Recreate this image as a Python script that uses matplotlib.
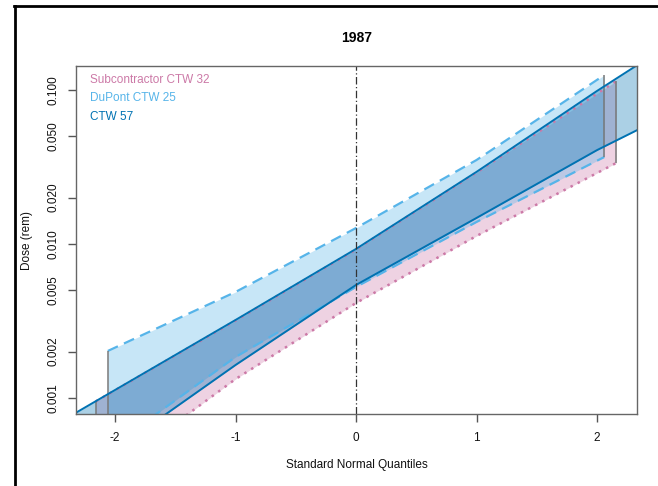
import matplotlib
matplotlib.use("Agg")
import matplotlib.pyplot as plt
from matplotlib.lines import Line2D

plt.rcParams['font.family'] = ['Liberation Sans', 'DejaVu Sans']

# ---- data (x: standard normal quantile, y: dose in rem)
title = "1987"
series_names = ["Subcontractor CTW 32", "DuPont CTW 25", "CTW 57"]

sub_q = [-2.16, -1.0, 0.0, 1.0, 2.16]
sub_upper = [0.00095, 0.00318, 0.00921, 0.0291, 0.1143]
sub_lower = [0.000285, 0.001327, 0.00414, 0.01127, 0.0336]

dup_q = [-2.06, -1.0, 0.0, 1.0, 2.06]
dup_upper = [0.00202, 0.00488, 0.0127, 0.0351, 0.125]
dup_lower = [0.000467, 0.001845, 0.00526, 0.0139, 0.0367]

ctw_q = [-2.40, -2.0, -1.0, 0.0, 1.0, 2.0, 2.40]
ctw_upper = [0.000741, 0.001127, 0.00321, 0.00929, 0.0294, 0.0986, 0.1566]
ctw_lower = [0.000261, 0.000459, 0.001637, 0.00542, 0.01476, 0.0407, 0.0583]

x_ticks = [-2, -1, 0, 1, 2]
y_ticks = [0.001, 0.002, 0.005, 0.010, 0.020, 0.050, 0.100]
y_tick_labels = ["0.001", "0.002", "0.005", "0.010", "0.020", "0.050", "0.100"]

col_sub = "#CC79A7"
col_dup = "#56B4E9"
col_ctw = "#0072B2"

fig = plt.figure(figsize=(6.58, 4.86), dpi=100)
ax = fig.add_axes([76/658, 1-414/486, 561/658, 348/486])

def band(q, up, lo, color, ls, lw, fill_alpha):
    ax.fill_between(q, lo, up, color=color, alpha=fill_alpha, lw=0)
    ax.plot(q, up, color=color, ls=ls, lw=lw)
    ax.plot(q, lo, color=color, ls=ls, lw=lw)
    ax.vlines([q[0], q[-1]], [lo[0], lo[-1]], [up[0], up[-1]],
              color="#777777", lw=1.2, alpha=0.9)

band(sub_q, sub_upper, sub_lower, col_sub, (0, (1, 2.2)), 1.8, 0.33)
band(dup_q, dup_upper, dup_lower, col_dup, (0, (5, 3)), 1.6, 0.33)
band(ctw_q, ctw_upper, ctw_lower, col_ctw, "-", 1.4, 0.33)

ax.axvline(0, color="#333333", lw=0.9, ls=(0, (6, 2, 1, 2)))

ax.set_yscale("log")
ax.set_xlim(-2.324, 2.332)
ax.set_ylim(0.000787, 0.1432)
ax.set_xticks(x_ticks)
ax.set_xticklabels([str(v) for v in x_ticks])
ax.set_yticks(y_ticks)
ax.set_yticklabels(y_tick_labels, rotation=90, va="center")
ax.yaxis.set_minor_locator(matplotlib.ticker.NullLocator())
ax.tick_params(axis="both", direction="out", length=6, width=1, color="#555555",
               labelsize=8.5, labelcolor="#111111")
ax.tick_params(axis="x", pad=7)
ax.tick_params(axis="y", pad=6)
for s in ax.spines.values():
    s.set_color("#666666")
    s.set_linewidth(1.0)

ax.set_xlabel("Standard Normal Quantiles", fontsize=8.5, labelpad=11, color="#111111")
ax.set_ylabel("Dose (rem)", fontsize=8.5, labelpad=10, color="#111111")
ax.set_title(title, fontsize=10, fontweight="bold", pad=17)

for i, (name, c) in enumerate(zip(series_names, [col_sub, col_dup, col_ctw])):
    ax.text(0.025, 0.96 - i * 0.053, name, color=c, fontsize=8.5,
            transform=ax.transAxes, va="center", ha="left")

# partial outer frame
fig.add_artist(Line2D([14/658, 1.0], [1-6/486, 1-6/486], color="black", lw=2,
                      transform=fig.transFigure))
fig.add_artist(Line2D([15/658, 15/658], [0, 1-6/486], color="black", lw=2,
                      transform=fig.transFigure))

fig.savefig("out.png", dpi=100)
